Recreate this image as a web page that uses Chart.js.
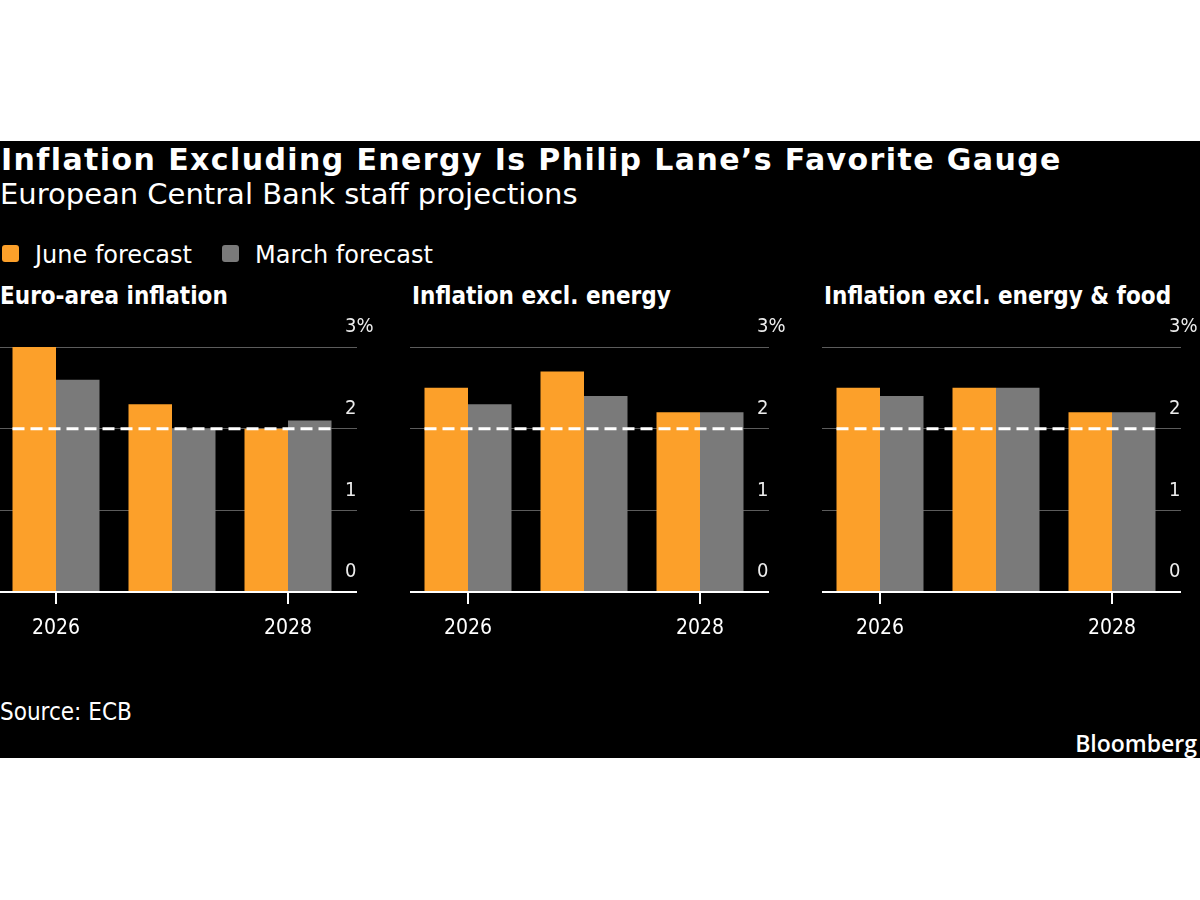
<!DOCTYPE html>
<html>
<head>
<meta charset="utf-8">
<script src="https://cdn.jsdelivr.net/npm/chart.js@4/dist/chart.umd.min.js"></script>
<style>
  html, body { margin:0; padding:0; background:#fff; width:1200px; height:900px; overflow:hidden; position:relative; }
  .band { position:absolute; left:0; top:141px; width:1200px; height:617px; background:#000; }
  .t { position:absolute; color:#fff; white-space:nowrap; line-height:1; }
  .title { left:1px; top:142px; font:bold 30px "DejaVu Sans"; letter-spacing:1.4px; }
  .sub { left:0; top:177px; font:29px "DejaVu Sans"; }
  .leg { top:241px; font:24px "DejaVu Sans"; }
  .sw { position:absolute; top:245px; width:17px; height:17px; border-radius:3px; }
  .ptitle { top:282px; font:bold 24px "DejaVu Sans Condensed","DejaVu Sans"; font-stretch:condensed; }
  .src { left:0; top:698px; font:24px "DejaVu Sans Condensed","DejaVu Sans"; font-stretch:condensed; }
  .bbg { right:3px; top:727px; font:600 23px "Open Sans"; }
  canvas { position:absolute; }
</style>
</head>
<body>
<div class="band"></div>
<div class="t title">Inflation Excluding Energy Is Philip Lane’s Favorite Gauge</div>
<div class="t sub">European Central Bank staff projections</div>
<div class="sw" style="left:2px;background:#fca02a"></div>
<div class="t leg" style="left:35px">June forecast</div>
<div class="sw" style="left:222px;background:#7a7a7a"></div>
<div class="t leg" style="left:255px">March forecast</div>
<div class="t ptitle" style="left:0px">Euro-area inflation</div>
<div class="t ptitle" style="left:412px">Inflation excl. energy</div>
<div class="t ptitle" style="left:824px">Inflation excl. energy &amp; food</div>
<canvas id="c0" width="388" height="342" style="left:-2px;top:310px"></canvas>
<canvas id="c1" width="388" height="342" style="left:410px;top:310px"></canvas>
<canvas id="c2" width="388" height="342" style="left:822px;top:310px"></canvas>
<div class="t src">Source: ECB</div>
<div class="t bbg">Bloomberg</div>
<script>
const years = ['2026', '2027', '2028'];
const seriesNames = ['June forecast', 'March forecast'];
const headlineJune = [3.0, 2.3, 2.0];
const headlineMarch = [2.6, 2.0, 2.1];
const exEnergyJune = [2.5, 2.7, 2.2];
const exEnergyMarch = [2.3, 2.4, 2.2];
const exEnergyFoodJune = [2.5, 2.5, 2.2];
const exEnergyFoodMarch = [2.4, 2.5, 2.2];
const targetRate = 2;
const yTicks = [0, 1, 2, 3];

const ORANGE = '#fca02a';
const GRAY = '#7a7a7a';
const FONT = 'DejaVu Sans Condensed';

// Dashed 2% target line, spanning from the first bar's left edge to the last bar's right edge
const targetLine = {
  id: 'targetLine',
  afterDatasetsDraw(chart, args, opts) {
    const y = chart.scales.y.getPixelForValue(opts.value);
    const m0 = chart.getDatasetMeta(0).data;
    const m1 = chart.getDatasetMeta(chart.data.datasets.length - 1).data;
    const a = m0[0], b = m1[m1.length - 1];
    const x0 = a.x - a.width / 2, x1 = b.x + b.width / 2;
    const ctx = chart.ctx;
    ctx.save();
    ctx.strokeStyle = '#ffffff';
    ctx.lineWidth = 3;
    ctx.setLineDash([12, 6]);
    ctx.beginPath();
    ctx.moveTo(x0, y);
    ctx.lineTo(x1, y);
    ctx.stroke();
    ctx.restore();
  }
};

function makeChart(id, june, march) {
  new Chart(document.getElementById(id), {
    type: 'bar',
    data: {
      labels: years,
      datasets: [
        { label: seriesNames[0], data: june, backgroundColor: ORANGE, borderWidth: 0 },
        { label: seriesNames[1], data: march, backgroundColor: GRAY, borderWidth: 0 }
      ]
    },
    plugins: [targetLine],
    options: {
      responsive: false,
      animation: false,
      devicePixelRatio: 1,
      datasets: { bar: { barPercentage: 1, categoryPercentage: 0.75 } },
      layout: { padding: { top: 37, left: 0, right: 0, bottom: 0 } },
      plugins: {
        legend: { display: false },
        tooltip: { enabled: false },
        targetLine: { value: targetRate }
      },
      scales: {
        x: {
          type: 'category',
          offset: true,
          border: { display: false },
          grid: {
            offset: false, drawOnChartArea: false, drawTicks: true, tickLength: 12,
            lineWidth: 2,
            color: (c) => (c.index === 1 ? 'rgba(0,0,0,0)' : '#ffffff')
          },
          ticks: {
            color: '#ffffff', padding: 12, maxRotation: 0, autoSkip: false,
            font: { family: FONT, size: 21 },
            callback: (v, i) => (i === 1 ? '' : years[i])
          },
          afterFit: (s) => { s.height = 60; }
        },
        y: {
          position: 'right',
          min: 0, max: 3,
          border: { display: false },
          afterBuildTicks: (s) => { s.ticks = yTicks.map(v => ({ value: v })); },
          grid: {
            drawTicks: true, tickLength: 11,
            color: (c) => (c.tick && c.tick.value === 0 ? '#ffffff' : '#5c5c5c'),
            lineWidth: (c) => (c.tick && c.tick.value === 0 ? 2 : 1)
          },
          ticks: {
            color: '#ececec', padding: -12, labelOffset: -20,
            font: { family: FONT, size: 20 },
            callback: (v) => (v === 3 ? v + '%' : String(v))
          },
          afterFit: (s) => { s.width = 40; }
        }
      }
    }
  });
}

makeChart('c0', headlineJune, headlineMarch);
makeChart('c1', exEnergyJune, exEnergyMarch);
makeChart('c2', exEnergyFoodJune, exEnergyFoodMarch);
</script>
</body>
</html>
